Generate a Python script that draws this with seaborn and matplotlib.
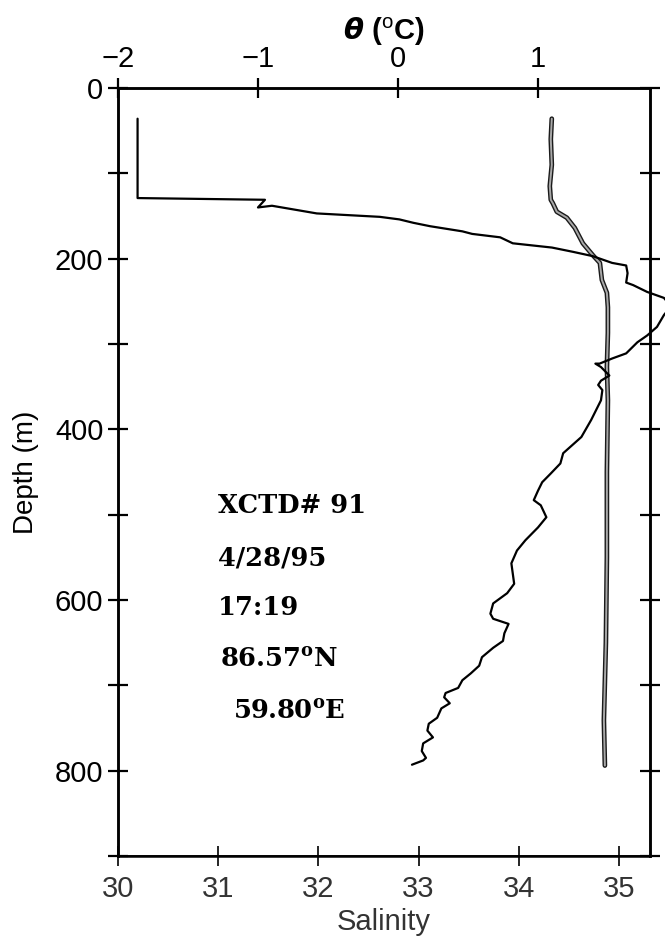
import matplotlib
matplotlib.use("Agg")
import matplotlib.pyplot as plt
import matplotlib.patheffects as pe
import seaborn as sns
import pandas as pd

# XCTD #91 profile
theta_depth = [36, 129, 131, 140, 138, 147, 151, 154, 158, 162,
               168, 171, 175, 182, 187, 192, 197, 205, 208, 217,
               228, 231, 239, 246, 256, 266, 280, 290, 298, 311,
               317, 323, 323, 327, 337, 343, 348, 354, 366, 389,
               409, 428, 440, 452, 462, 472, 483, 489, 503, 515,
               530, 542, 557, 581, 592, 604, 616, 622, 628, 639,
               648, 656, 667, 677, 686, 694, 703, 709, 714, 721,
               727, 738, 745, 753, 761, 768, 777, 785, 788, 793]
theta = [-1.86, -1.86, -0.95, -1.00, -0.90, -0.58, -0.13, 0.01, 0.11, 0.23,
         0.46, 0.53, 0.73, 0.82, 1.10, 1.25, 1.39, 1.53, 1.63, 1.64,
         1.63, 1.68, 1.78, 1.90, 1.95, 1.90, 1.85, 1.78, 1.71, 1.63,
         1.53, 1.44, 1.41, 1.45, 1.51, 1.45, 1.43, 1.46, 1.45, 1.38,
         1.31, 1.18, 1.16, 1.09, 1.03, 1.00, 0.97, 1.02, 1.06, 1.00,
         0.91, 0.85, 0.81, 0.83, 0.78, 0.68, 0.66, 0.68, 0.79, 0.76,
         0.75, 0.68, 0.60, 0.58, 0.52, 0.46, 0.43, 0.34, 0.33, 0.37,
         0.31, 0.28, 0.22, 0.21, 0.25, 0.18, 0.17, 0.20, 0.18, 0.10]

sal_depth = [36, 60, 90, 115, 131, 135, 145, 152, 164, 182, 196, 205,
             225, 240, 257, 287, 327, 366, 450, 550, 650, 741, 794]
salinity = [34.33, 34.32, 34.33, 34.31, 34.32, 34.34, 34.38, 34.48, 34.56,
            34.64, 34.74, 34.81, 34.83, 34.88, 34.89, 34.89, 34.88, 34.89,
            34.88, 34.88, 34.87, 34.85, 34.86]

station_info = ["XCTD# 91", "4/28/95", "17:19",
                "86.57$^{\\mathbf{o}}$N", "59.80$^{\\mathbf{o}}$E"]
info_x = [31.0, 31.0, 31.0, 31.02, 31.15]
info_depth = [489, 551, 609, 669, 730]

sal_df = pd.DataFrame({"S": salinity, "z": sal_depth})
th_df = pd.DataFrame({"T": theta, "z": theta_depth})

sns.set_style("ticks")
plt.rcParams["font.family"] = ["Liberation Sans", "DejaVu Sans"]
plt.rcParams["mathtext.fontset"] = "custom"
plt.rcParams["mathtext.rm"] = "DejaVu Serif"
plt.rcParams["mathtext.bf"] = "DejaVu Serif:bold"
plt.rcParams["mathtext.it"] = "DejaVu Sans:italic:bold"
plt.rcParams["mathtext.sf"] = "Liberation Sans"
# seaborn greys the text, the original is plain black
for key in ["text.color", "axes.labelcolor", "xtick.color", "ytick.color"]:
    plt.rcParams[key] = "black"

fig = plt.figure(figsize=(6.65, 9.44), dpi=100)
ax = fig.add_axes([0.1774, 0.0932, 0.8, 0.8136])
ax2 = ax.twiny()

# salinity: grey line with dark edges
sns.lineplot(data=sal_df, x="S", y="z", sort=False, estimator=None, ax=ax,
             color="#a8a8a8", lw=1.4,
             path_effects=[pe.Stroke(linewidth=3.4, foreground="#1a1a1a"), pe.Normal()])
# potential temperature on top axis
sns.lineplot(data=th_df, x="T", y="z", sort=False, estimator=None, ax=ax2,
             color="black", lw=1.6, clip_on=False)

ax.set_xlim(30, 35.31)
ax.set_ylim(900, 0)
ax2.set_xlim(-2, 1.8)

ax.set_xticks([30, 31, 32, 33, 34, 35])
ax.set_yticks([0, 200, 400, 600, 800])
ax.set_yticks([100, 300, 500, 700, 900], minor=True)
ax.set_xticks([], minor=True)
ax2.set_xticks([-2, -1, 0, 1])
ax2.set_xticks([], minor=True)

ax.tick_params(axis="y", which="both", direction="inout", length=15, width=1.6,
               left=True, right=True, labelsize=21, pad=3)
ax.tick_params(axis="x", which="both", direction="inout", length=15, width=1.2,
               bottom=True, top=False, labelsize=21, labelcolor="#333333", pad=6)
ax2.tick_params(axis="x", direction="inout", length=15, width=1.6,
                top=True, bottom=False, labelsize=21, pad=3)

for a in (ax, ax2):
    for s in a.spines.values():
        s.set_linewidth(1.8)
        s.set_color("black")
ax.spines["bottom"].set_linewidth(1.3)

ax.set_xlabel("Salinity", fontsize=21, color="#333333", labelpad=4)
ax.set_ylabel("Depth (m)", fontsize=20)
ax.yaxis.set_label_coords(-0.148, 0.5)
ax2.set_xlabel("$\\theta$ ($^{\\mathsf{o}}$C)", fontsize=21, fontweight="bold", labelpad=4)
ax2.set_ylabel("")

for txt, x, z in zip(station_info, info_x, info_depth):
    ax.text(x, z, txt, fontsize=18.5, fontfamily="DejaVu Serif", fontweight="bold",
            ha="left", va="center")

fig.savefig("out.png", dpi=100)
